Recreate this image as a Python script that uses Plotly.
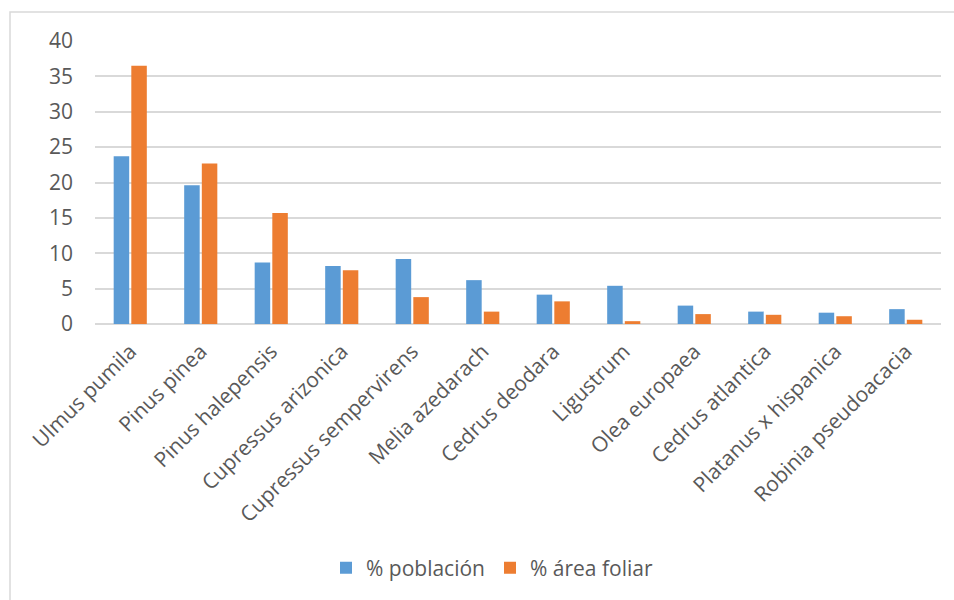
import plotly.graph_objects as go

categories = ["Ulmus pumila", "Pinus pinea", "Pinus halepensis", "Cupressus arizonica",
              "Cupressus sempervirens", "Melia azedarach", "Cedrus deodara", "Ligustrum",
              "Olea europaea", "Cedrus atlantica", "Platanus x hispanica", "Robinia pseudoacacia"]
poblacion = [23.7, 19.6, 8.7, 8.2, 9.2, 6.2, 4.15, 5.4, 2.6, 1.75, 1.6, 2.1]
area_foliar = [36.5, 22.7, 15.7, 7.6, 3.8, 1.75, 3.2, 0.4, 1.4, 1.3, 1.1, 0.6]
y_ticks = [0, 5, 10, 15, 20, 25, 30, 35, 40]

FONT = "Open Sans"
GRAY = "#595959"

fig = go.Figure()
fig.add_trace(go.Bar(x=categories, y=poblacion, name="% población",
                     marker=dict(color="#5B9BD5", line=dict(width=0))))
fig.add_trace(go.Bar(x=categories, y=area_foliar, name="% área foliar",
                     marker=dict(color="#ED7D31", line=dict(width=0))))

L, R, T, B = 95, 13, 41, 276
W, H = 954, 600
pw, ph = W - L - R, H - T - B

fig.update_layout(
    width=W, height=H,
    margin=dict(l=L, r=R, t=T, b=B),
    paper_bgcolor="white", plot_bgcolor="white",
    font=dict(family=FONT, size=21, color=GRAY),
    barmode="group", bargap=0.5, bargroupgap=0.12,
    showlegend=True,
    legend=dict(orientation="h", x=(492 - L) / pw, xanchor="center", y=(324 - 568) / ph, yanchor="middle",
                font=dict(family=FONT, size=21, color=GRAY), traceorder="normal"),
    xaxis=dict(tickangle=-45, showgrid=False, showline=False, ticks="",
               tickfont=dict(family=FONT, size=21, color=GRAY), ticklabelstandoff=10),
    yaxis=dict(range=[0, 40], tickvals=y_ticks, showgrid=True, gridcolor="#d9d9d9", gridwidth=1.5,
               zeroline=True, zerolinecolor="#d9d9d9", zerolinewidth=1.5, showline=False, ticks="",
               tickfont=dict(family=FONT, size=21, color=GRAY), ticklabelstandoff=21),
    shapes=[dict(type="rect", xref="paper", yref="paper",
                 x0=(10 - L) / pw, x1=(W + 20 - L) / pw,
                 y0=(324 - (H + 20)) / ph, y1=(324 - 12) / ph,
                 line=dict(color="#d9d9d9", width=1.5), fillcolor="rgba(0,0,0,0)", layer="below")],
)

fig.write_html("out.html")
